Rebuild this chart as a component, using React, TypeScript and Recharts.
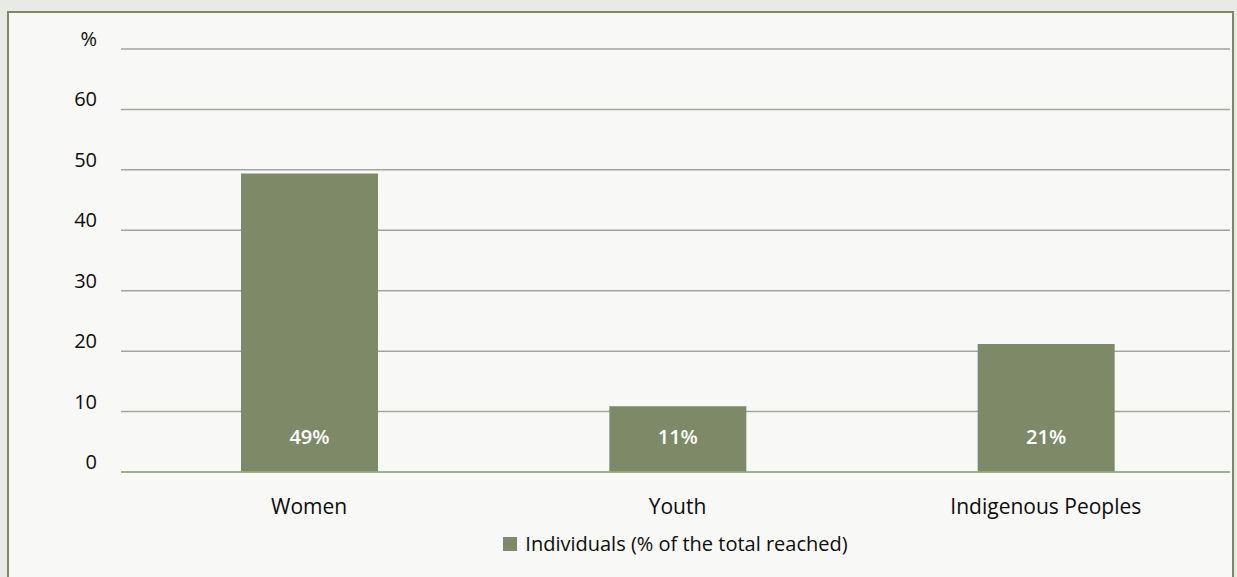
import { Bar, BarChart, CartesianGrid, LabelList, Legend, XAxis, YAxis } from 'recharts';

const groups = ['Women', 'Youth', 'Indigenous Peoples'];
const shares = [49.4, 10.9, 21.2];
const shareLabels = ['49%', '11%', '21%'];
const yTicks = [0, 10, 20, 30, 40, 50, 60, 70];
const seriesName = 'Individuals (% of the total reached)';

const data = groups.map((g, i) => ({ group: g, share: shares[i], label: shareLabels[i] }));

const FONT = '"Open Sans", "Noto Sans", sans-serif';
const BAR = '#7e8a67';

const YTick = (props: any) => {
  const { x, y, payload } = props;
  return (
    <text x={x - 16} y={y - 10} dy="0.35em" textAnchor="end" fontSize={20} fontWeight={500} fill="#0d0d0d" fontFamily={FONT}>
      {payload.value === 70 ? '%' : payload.value}
    </text>
  );
};

const XTick = (props: any) => {
  const { x, y, payload } = props;
  return (
    <text x={x} y={y + 27} dy="0.35em" textAnchor="middle" fontSize={21} fontWeight={500} fill="#0d0d0d" fontFamily={FONT}>
      {payload.value}
    </text>
  );
};

const InsideLabel = (props: any) => {
  const { x, y, width, height, value } = props;
  return (
    <text x={x + width / 2} y={y + height - 35} dy="0.35em" textAnchor="middle" fontSize={20} fontWeight={600} fill="#fff" fontFamily={FONT}>
      {value}
    </text>
  );
};

// legend is centred over the plot area, not the whole box
const LegendContent = () => (
  <div
    style={{
      display: 'flex',
      justifyContent: 'center',
      alignItems: 'center',
      fontFamily: FONT,
      fontSize: 20,
      fontWeight: 500,
      color: '#0d0d0d',
      marginTop: -12,
      position: 'relative',
      top: -2,
      paddingLeft: 112,
    }}
  >
    <span style={{ width: 14, height: 14, background: BAR, marginRight: 8, display: 'inline-block' }} />
    {seriesName}
  </div>
);

export default function App() {
  return (
    <div style={{ width: 1237, height: 577, background: '#e9eae5', position: 'relative', overflow: 'hidden' }}>
      <style>{`body{margin:0}`}</style>
      <div
        style={{
          position: 'absolute',
          left: 7,
          top: 11,
          width: 1223,
          height: 580,
          background: '#f8f8f6',
          border: '2px solid #7e8a67',
        }}
      >
        <BarChart width={1223} height={566} data={data} margin={{ top: 36, right: 2, left: 0, bottom: 20 }} barSize={137}>
          <CartesianGrid vertical={false} stroke="#a3a3a0" strokeWidth={1.5} />
          <XAxis dataKey="group" tick={<XTick />} tickLine={false} axisLine={{ stroke: '#9bab86', strokeWidth: 1.5 }} height={72} padding={{ left: 4, right: 0 }} />
          <YAxis domain={[0, 70]} ticks={yTicks} tick={<YTick />} tickLine={false} axisLine={false} width={112} />
          <Legend verticalAlign="bottom" content={<LegendContent />} />
          <Bar dataKey="share" name={seriesName} fill={BAR} isAnimationActive={false}>
            <LabelList dataKey="label" content={<InsideLabel />} />
          </Bar>
        </BarChart>
      </div>
    </div>
  );
}
